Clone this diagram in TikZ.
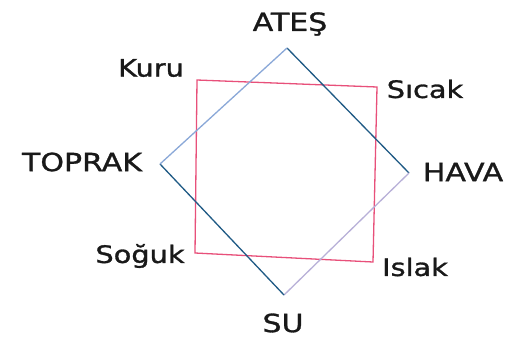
\documentclass[tikz,border=0pt]{standalone}
\usepackage{fontspec}
\newfontfamily\hand[FakeStretch=1.2,FakeBold=1.2]{DejaVu Sans}
\definecolor{sqred}{HTML}{E8507A}
\definecolor{dblue}{HTML}{1F5A85}
\definecolor{lblue}{HTML}{8AA8D8}
\definecolor{lav}{HTML}{B8B0D8}
\begin{document}
\begin{tikzpicture}[x=1pt,y=-1pt,
  caplbl/.style={font=\hand\fontsize{25}{28}\selectfont, text=black!90, inner sep=0pt},
  lowlbl/.style={font=\hand\fontsize{24}{27}\selectfont, text=black!90, inner sep=0pt},
  sq/.style={draw=sqred, line width=1.3pt},
  edge/.style={line width=1.3pt}]
\useasboundingbox[fill=white] (0,0) rectangle (513,338);
% square corners
\coordinate (kuru) at (197,80);
\coordinate (sicak) at (377,87);
\coordinate (islak) at (373,262);
\coordinate (soguk) at (195,253);
% diamond vertices
\coordinate (ates) at (287,48);
\coordinate (hava) at (409,173);
\coordinate (su) at (284,295);
\coordinate (toprak) at (160,164);
\draw[sq] (kuru) -- (sicak) -- (islak) -- (soguk) -- cycle;
\draw[edge, dblue] (ates) -- (hava);
\draw[edge, lav] (hava) -- (su);
\draw[edge, dblue] (su) -- (toprak);
\draw[edge, lblue] (toprak) -- (ates);
% labels
\node[caplbl] (tates) at (290,24) {ATEŞ};
\node[caplbl] (thava) at (463,172) {HAVA};
\node[caplbl] (tsu) at (283,323) {SU};
\node[caplbl] (ttoprak) at (82,162) {TOPRAK};
\node[lowlbl] (tkuru) at (151,68) {Kuru};
\node[lowlbl] (tsicak) at (425,89) {Sıcak};
\node[lowlbl] (tsoguk) at (140,256) {Soğuk};
\node[lowlbl] (tislak) at (415,267) {Islak};
\end{tikzpicture}
\end{document}
